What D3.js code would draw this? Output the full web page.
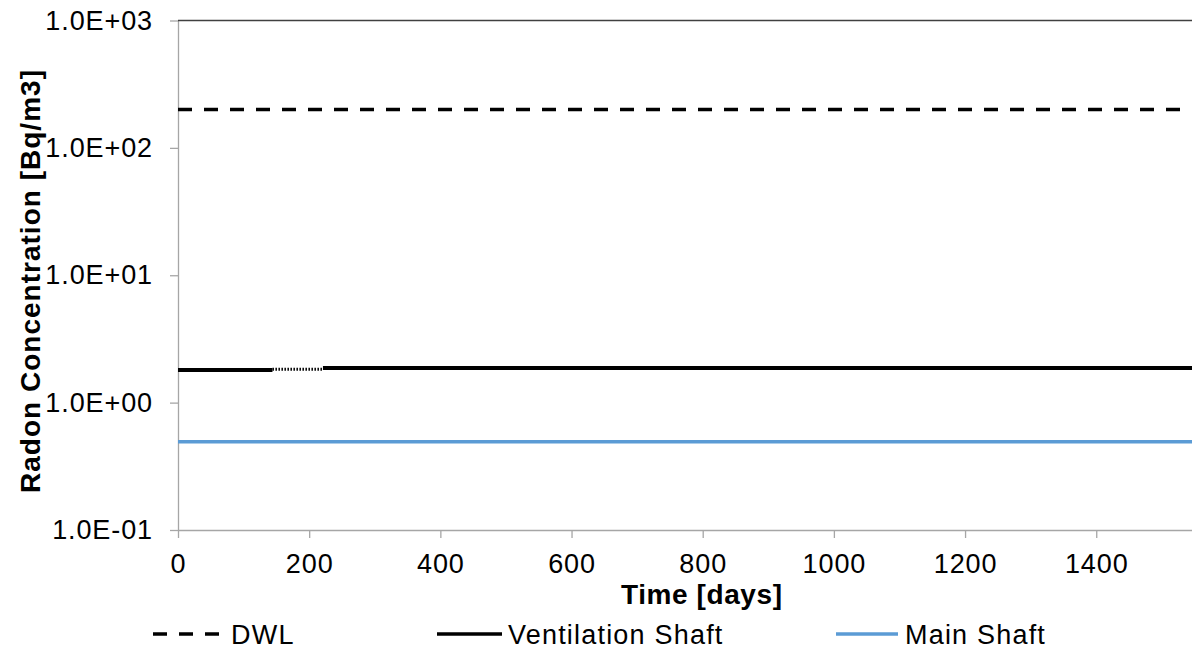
<!DOCTYPE html>
<html>
<head>
<meta charset="utf-8">
<script src="https://cdn.jsdelivr.net/npm/d3@7"></script>
<style>
	body { margin: 0; background: #fff; }
	text { font-family: Arial, "Liberation Sans", sans-serif; fill: #000; }
</style>
</head>
<body>
<div id="chart"></div>
<script>
//Dados
var dwlDays = [0, 1546];
var dwlValues = [200, 200];
var ventDays = [0, 144, 144, 221, 221, 1546];
var ventValues = [1.80, 1.80, 1.83, 1.83, 1.87, 1.87];
var mainDays = [0, 1546];
var mainValues = [0.494, 0.494];
var xTicks = [0, 200, 400, 600, 800, 1000, 1200, 1400];
var yTicks = [0.1, 1, 10, 100, 1000];
var yTickLabels = ["1.0E-01", "1.0E+00", "1.0E+01", "1.0E+02", "1.0E+03"];
var seriesNames = ["DWL", "Ventilation Shaft", "Main Shaft"];

(function () {
	'use strict';
	var width = 1192, height = 653;
	var margin = {top: 20.5, right: 0, bottom: 123, left: 178};

	var svg = d3.select("#chart").append("svg")
		.attr("width", width)
		.attr("height", height);

	//Escalas
	var x = d3.scaleLinear()
		.domain([0, 1546])
		.range([margin.left, width - margin.right]);
	var y = d3.scaleLog()
		.domain([0.1, 1000])
		.range([height - margin.bottom, margin.top]);

	var toPts = function(xs, ys) { return xs.map(function(d, i) { return [d, ys[i]]; }); };
	var line = d3.line()
		.x(function(d) { return x(d[0]); })
		.y(function(d) { return y(d[1]); });

	//Eixo x
	var xAxis = svg.append("g")
		.attr("transform", "translate(0," + y(0.1) + ")")
		.call(d3.axisBottom(x).tickValues(xTicks).tickSize(8).tickSizeOuter(0).tickPadding(16)
			.tickFormat(d3.format("d")));
	xAxis.selectAll("path, line").attr("stroke", "#a6a6a6").attr("stroke-width", 1.3);
	xAxis.selectAll("text").style("font-size", "27px").style("letter-spacing", "0.9px").attr("fill", "#000");

	//Eixo y
	var yAxis = svg.append("g")
		.attr("transform", "translate(" + x(0) + ",0)")
		.call(d3.axisLeft(y).tickValues(yTicks).tickSize(8).tickSizeOuter(0).tickPadding(17)
			.tickFormat(function(d, i) { return yTickLabels[i]; }));
	yAxis.selectAll("path, line").attr("stroke", "#a6a6a6").attr("stroke-width", 1.3);
	yAxis.selectAll("text").style("font-size", "27px").style("letter-spacing", "0.9px").attr("fill", "#000");

	//Linha superior
	svg.append("line")
		.attr("x1", x(0)).attr("x2", width)
		.attr("y1", y(1000)).attr("y2", y(1000))
		.attr("stroke", "#404040").attr("stroke-width", 1.3);

	//Séries
	svg.append("path")
		.datum(toPts(dwlDays, dwlValues))
		.attr("d", line)
		.attr("fill", "none").attr("stroke", "#000").attr("stroke-width", 3.5)
		.attr("stroke-dasharray", "14,12");

	var vent = toPts(ventDays, ventValues);
	[[0, 2, false], [2, 4, true], [4, 6, false]].forEach(function(s) {
		svg.append("path")
			.datum(vent.slice(s[0], s[1]))
			.attr("d", line)
			.attr("fill", "none").attr("stroke", "#000")
			.attr("stroke-width", s[2] ? 3 : 4)
			.attr("stroke-dasharray", s[2] ? "1.5,1.5" : null);
	});

	svg.append("path")
		.datum(toPts(mainDays, mainValues))
		.attr("d", line)
		.attr("fill", "none").attr("stroke", "#5b9bd5").attr("stroke-width", 3.5);

	//Títulos
	svg.append("text")
		.attr("x", 621).attr("y", 604)
		.attr("textLength", 161).attr("lengthAdjust", "spacing")
		.style("font-size", "28px").style("font-weight", "bold")
		.text("Time [days]");
	svg.append("text")
		.attr("transform", "translate(40,493) rotate(-90)")
		.attr("textLength", 423).attr("lengthAdjust", "spacing")
		.style("font-size", "28px").style("font-weight", "bold")
		.text("Radon Concentration [Bq/m3]");

	//Legenda
	var legend = [
		{x1: 153, x2: 220, tx: 231, color: "#000", dash: "14,12"},
		{x1: 437, x2: 502, tx: 508, color: "#000", dash: null},
		{x1: 836, x2: 898, tx: 905, color: "#5b9bd5", dash: null}
	];
	legend.forEach(function(l, i) {
		svg.append("line")
			.attr("x1", l.x1).attr("x2", l.x2)
			.attr("y1", 634).attr("y2", 634)
			.attr("stroke", l.color).attr("stroke-width", 3.5)
			.attr("stroke-dasharray", l.dash);
		svg.append("text")
			.attr("x", l.tx).attr("y", 644)
			.style("font-size", "27px").style("letter-spacing", "1.2px")
			.text(seriesNames[i]);
	});
}());
</script>
</body>
</html>
